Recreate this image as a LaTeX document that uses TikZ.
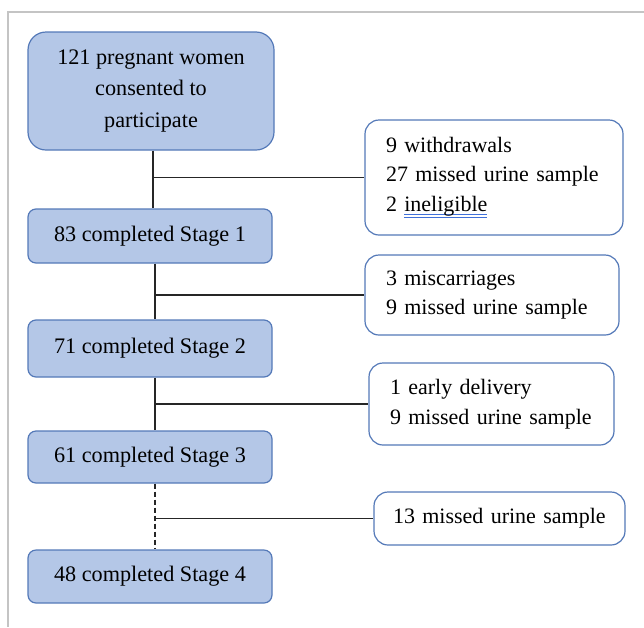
\documentclass[tikz,border=0pt]{standalone}
\usepackage{fontspec}
\setmainfont{Liberation Serif}
\definecolor{boxfill}{HTML}{B4C7E7}
\definecolor{boxline}{HTML}{5479B8}
\definecolor{framegray}{HTML}{C4C4C4}
\definecolor{spellblue}{HTML}{3F6FD8}
\newcommand\spellul[1]{\setbox0=\hbox{#1}\leavevmode
  \rlap{\color{spellblue}\rule[-4pt]{\wd0}{0.9pt}}%
  \rlap{\color{spellblue}\rule[-6.5pt]{\wd0}{0.9pt}}\box0}
\begin{document}
\begin{tikzpicture}[x=1pt,y=-1pt,
  stagebox/.style={draw=boxline,fill=boxfill,line width=1.2pt,rounded corners=8pt,
    minimum width=244pt,minimum height=54pt,inner sep=0pt,
    font=\fontsize{22.2}{31.5}\selectfont,align=center},
  topbox/.style={stagebox,rounded corners=18pt,minimum width=246pt,minimum height=118pt},
  notebox/.style={draw=boxline,fill=white,line width=1.2pt,rounded corners=14pt,
    inner sep=0pt,font=\fontsize{22}{29.5}\selectfont,align=left},
  link/.style={draw=black!85,line width=1.1pt}]
\useasboundingbox (0,0) rectangle (644,627);
\draw[framegray,line width=2pt] (644,12) -- (8,12) -- (8,627);
\node[topbox] (top) at (151,91) {121 pregnant women\\consented to\\participate};
\node[stagebox] (s1) at (150,236) {83 completed Stage 1};
\node[stagebox,minimum height=57pt] (s2) at (150,348.5) {71 completed Stage 2};
\node[stagebox,minimum height=52pt] (s3) at (150,457) {61 completed Stage 3};
\node[stagebox,minimum height=53pt] (s4) at (150,576.5) {48 completed Stage 4};
\node[notebox,minimum width=258pt,minimum height=115pt,text width=216pt] (r1) at (494,177.5)
  {9 withdrawals\\27 missed urine sample\\2 \spellul{ineligible}};
\node[notebox,minimum width=254pt,minimum height=80pt,text width=212pt] (r2) at (492,295)
  {3 miscarriages\\9 missed urine sample};
\node[notebox,minimum width=245pt,minimum height=82pt,text width=203pt] (r3) at (491.5,404)
  {1 early delivery\\9 missed urine sample};
\node[notebox,minimum width=251pt,minimum height=53pt,text width=213pt] (r4) at (499.5,518.5)
  {13 missed urine sample};
\coordinate (j1) at (153,177.5);
\coordinate (j2) at (155,295);
\coordinate (j3) at (155,404);
\coordinate (j4) at (155,518.5);
\draw[link] (j1 |- top.south) -- (j1 |- s1.north);
\draw[link] (j1) -- (r1.west);
\draw[link] (j2 |- s1.south) -- (j2 |- s2.north);
\draw[link] (j2) -- (r2.west);
\draw[link] (j3 |- s2.south) -- (j3 |- s3.north);
\draw[link] (j3) -- (r3.west);
\draw[link,dashed,dash pattern=on 5pt off 3pt] (j4 |- s3.south) -- (j4 |- s4.north);
\draw[link] (j4) -- (r4.west);
\end{tikzpicture}
\end{document}
